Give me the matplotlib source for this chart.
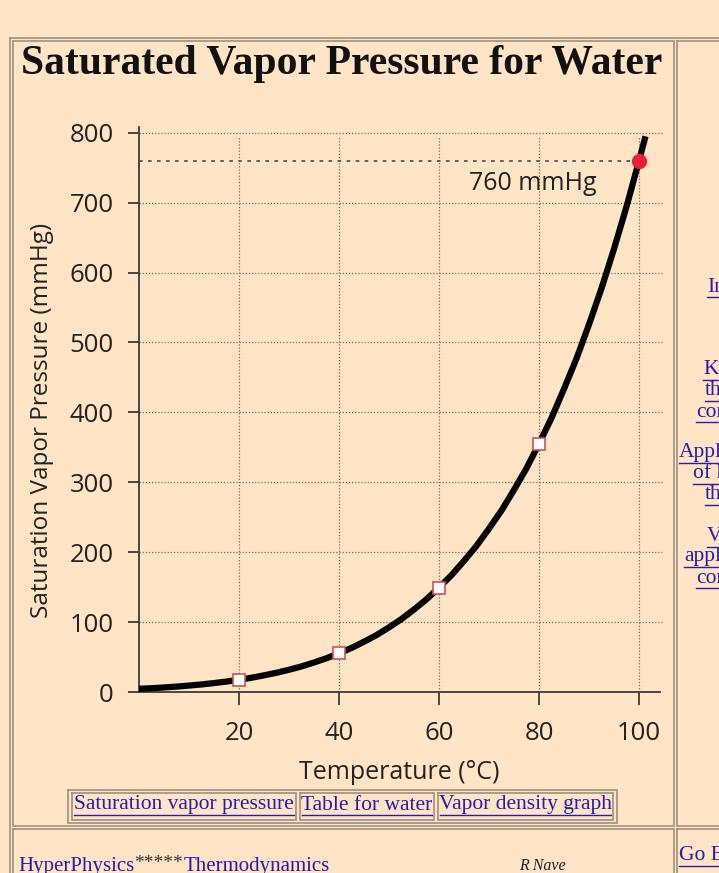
import numpy as np
import matplotlib.pyplot as plt

temps = [0, 2.5, 5, 7.5, 10, 12.5, 15, 17.5, 20, 22.5, 25, 27.5, 30, 32.5, 35, 37.5,
         40, 42.5, 45, 47.5, 50, 52.5, 55, 57.5, 60, 62.5, 65, 67.5, 70, 72.5, 75,
         77.5, 80, 82.5, 85, 87.5, 90, 92.5, 95, 97.5, 100, 101.3]
press = [4.6, 5.4, 6.5, 7.7, 9.2, 10.8, 12.8, 14.9, 17.5, 20.4, 23.8, 27.5, 31.8, 36.6,
         42.2, 48.3, 55.3, 63.0, 71.9, 81.4, 92.5, 104.4, 118.0, 132.6, 149.4, 167.2,
         187.5, 209.1, 233.7, 259.6, 289.1, 320.1, 355.1, 392.0, 433.6, 477.1, 525.8,
         577.4, 633.9, 694.3, 760.0, 795.0]
mark_t = [20, 40, 60, 80]
mark_p = [17.5, 55.3, 149.4, 355.1]
boil_t, boil_p = 100, 760
x_ticks = [20, 40, 60, 80, 100]
y_ticks = [0, 100, 200, 300, 400, 500, 600, 700, 800]
links = ['Saturation vapor pressure', 'Table for water', 'Vapor density graph']
side_links = [('Index', 707, 287), ('Kinetic', 703, 370), ('theory', 705, 391),
              ('concepts', 696, 412), ('Applications', 679, 453), ('of kinetic', 693, 474),
              ('theory', 705, 495), ('Vapor', 707, 537), ('applications', 684, 557),
              ('concepts', 696, 578)]

W, H = 719, 873
BG = '#FFE4C6'
LINK = '#2A1BB0'
BORDER = '#9c9080'
SANS = ['Open Sans', 'DejaVu Sans']
SERIF = ['Liberation Serif', 'DejaVu Serif']

fig = plt.figure(figsize=(W / 100, H / 100), dpi=100, facecolor=BG)

# page layer in pixel coordinates
page = fig.add_axes([0, 0, 1, 1])
page.set_xlim(0, W)
page.set_ylim(H, 0)
page.axis('off')
page.set_facecolor(BG)


def box(x0, y0, x1, y1, color=BORDER, lw=1.2):
    page.plot([x0, x1, x1, x0, x0], [y0, y0, y1, y1, y0], color=color, lw=lw,
              solid_joinstyle='miter')


# outer table and cells
box(10, 38, 730, 900)
box(13, 41, 674, 826)
box(677, 41, 730, 826)
box(13, 829, 674, 900)
box(677, 829, 730, 900)

page.text(342, 64, 'Saturated Vapor Pressure for Water', family=SERIF,
          fontweight='bold', fontsize=30, ha='center', va='center', color='#111111')

# link table under the chart
box(68, 790, 617, 823)
cells = [(72, 296), (300, 434), (438, 613)]
for (a, b), label in zip(cells, links):
    box(a, 793, b, 820)
    page.text((a + b) / 2, 805, label, family=SERIF, fontsize=15.5, color=LINK,
              ha='center', va='center')
    page.plot([a + 2, b - 2], [815, 815], color=LINK, lw=1)

# footer
page.text(18, 866, 'HyperPhysics', family=SERIF, fontsize=15, color=LINK, va='center')
page.text(134, 864, '*****', family=SERIF, fontsize=14, color='#333333', va='center')
page.text(184, 866, 'Thermodynamics', family=SERIF, fontsize=15, color=LINK, va='center')
page.text(519, 866, 'R Nave', family=SERIF, fontsize=11.5, style='italic',
          color='#222222', va='center')
page.text(679, 856, 'Go Back', family=SERIF, fontsize=15.5, color=LINK, va='center')
page.plot([679, 719], [866, 866], color=LINK, lw=1)

for label, x, y in side_links:
    page.text(x, y, label, family=SERIF, fontsize=15.5, color=LINK, va='center')
    page.plot([x, 719], [y + 10, y + 10], color=LINK, lw=1)

# chart axes placed at pixel box
left, right, top, bottom = 139, 660, 127, 692
ax = fig.add_axes([left / W, 1 - bottom / H, (right - left) / W, (bottom - top) / H])
ax.set_facecolor('none')
ax.set_xlim(0, (right - left) / 5.0)
ax.set_ylim(0, (bottom - top) / 0.699)

grid_c = '#7d6b58'
for y in y_ticks[1:]:
    ax.plot([0, 104.6], [y, y], color=grid_c, lw=0.9, ls=(0, (1, 1.5)), clip_on=False)
for x in x_ticks:
    ax.plot([x, x], [0, 795], color=grid_c, lw=0.9, ls=(0, (1, 1.5)))
ax.plot([0, boil_t], [boil_p, boil_p], color='#555555', lw=1.3, ls=(0, (2, 3)))

ax.plot(temps, press, color='black', lw=4.5, solid_capstyle='butt',
        solid_joinstyle='round', zorder=3)
ax.plot(mark_t, mark_p, ls='none', marker='s', ms=9, mfc='white', mec='#d2505c',
        mew=1.2, zorder=4)
ax.plot([boil_t], [boil_p], ls='none', marker='o', ms=10, color='#e8203a', zorder=5)
ax.text(91.6, 728, '760 mmHg', family=SANS, fontsize=18, ha='right', va='center',
        color='#222222')

for s in ['top', 'right']:
    ax.spines[s].set_visible(False)
for s in ['left', 'bottom']:
    ax.spines[s].set_color('#3a3a3a')
    ax.spines[s].set_linewidth(1.3)

ax.set_xticks(x_ticks)
ax.set_yticks(y_ticks)
ax.tick_params(axis='x', length=9, width=1.3, color='#3a3a3a', pad=12, labelsize=18.5)
ax.tick_params(axis='y', length=8, width=1.3, color='#3a3a3a', pad=10, labelsize=18.5)
for lab in ax.get_xticklabels() + ax.get_yticklabels():
    lab.set_family(SANS)
    lab.set_color('#222222')

ax.set_xlabel('Temperature (°C)', family=SANS, fontsize=18, color='#222222', labelpad=10)
ax.set_ylabel('Saturation Vapor Pressure (mmHg)', family=SANS, fontsize=17.5,
              color='#222222')
ax.yaxis.set_label_coords(-0.163, 0.48)

fig.savefig('out.png', dpi=100, facecolor=BG)
